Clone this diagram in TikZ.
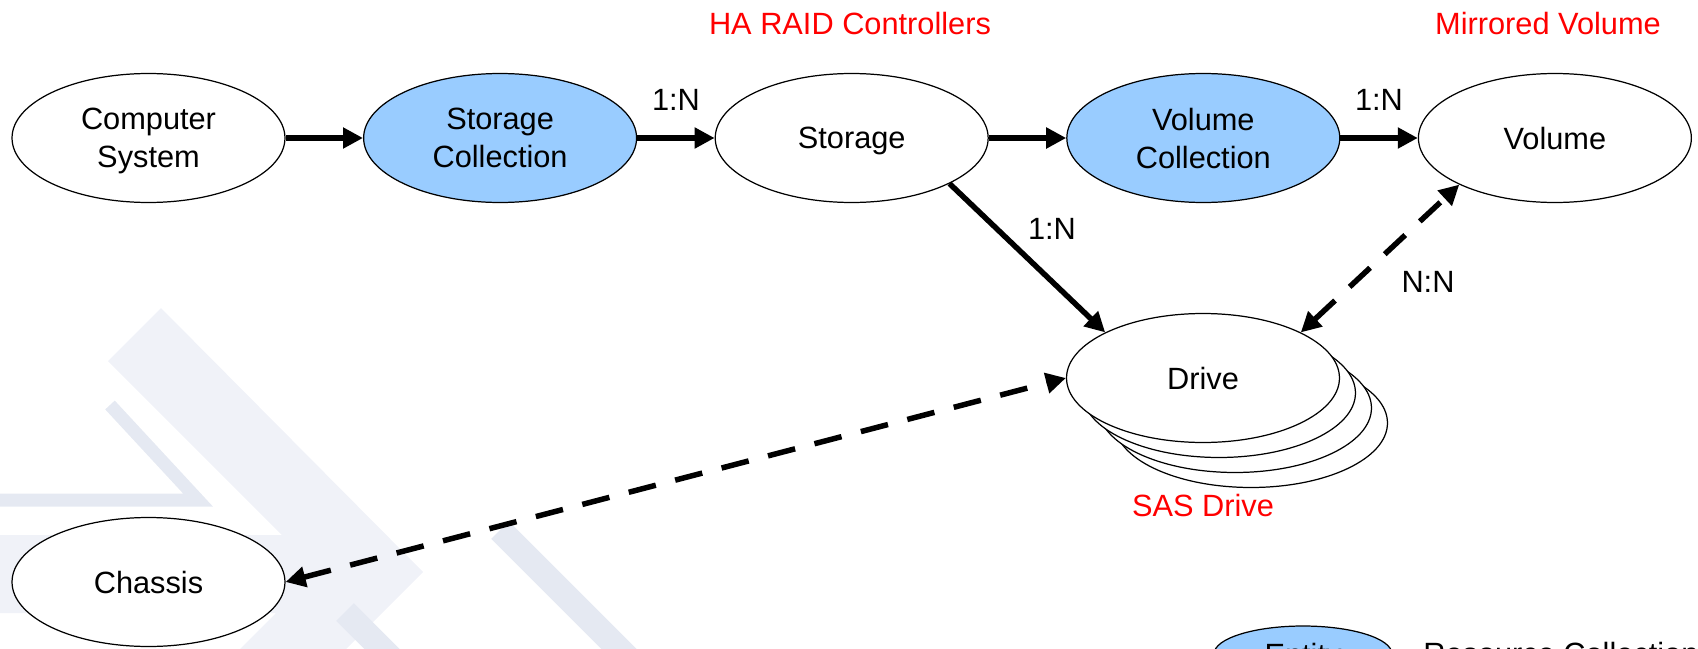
\documentclass[tikz,border=0pt]{standalone}
\usepackage{fontspec}
\setmainfont{Liberation Sans}
\usetikzlibrary{shapes.geometric, arrows.meta}
\definecolor{collblue}{HTML}{99CCFF}
\definecolor{wmlight}{HTML}{F0F2F8}
\definecolor{wmdark}{HTML}{E5E9F2}
\tikzset{
  every resource/.style={ellipse, draw, fill=white, line width=0.7pt,
    minimum width=5.46cm, minimum height=2.58cm, inner sep=0pt, text depth=0pt,
    align=center, font=\fontsize{17.5}{21.6}\selectfont},
  resource scoll/.style={fill=collblue},
  resource vcoll/.style={fill=collblue},
  link/.style={line width=0.11cm, -{Triangle[length=0.4cm, width=0.4cm]}},
  peer link/.style={line width=0.11cm, dash pattern=on 0.56cm off 0.4cm,
    {Triangle[length=0.4cm, width=0.4cm]}-{Triangle[length=0.4cm, width=0.4cm]}},
  card/.style={font=\fontsize{17.5}{21.6}\selectfont, inner sep=0pt},
  remark/.style={card, text=red}
}
\begin{document}
\begin{tikzpicture}[x=0.02cm, y=-0.02cm]
  \useasboundingbox (0,0) rectangle (1698,649);
  \clip (0,0) rectangle (1698,649);

  \fill [wmlight] (108,361) -- (161,308) -- (423,572) -- (346,649) -- (240,649)
    -- (276,613) -- (0,613) -- (0,535) -- (282,535) -- cycle;
  \draw [wmdark, line width=0.26cm] (110,405) -- (198,500) -- (0,500);
  \draw [wmdark, line width=0.5cm] (500,530) -- (640,670);
  \draw [wmdark, line width=0.5cm] (345,612) -- (395,662);

  \foreach \m/\l [count=\i from 0] in {system/{Computer\\System}, scoll/{Storage\\Collection},
      storage/Storage, vcoll/{Volume\\Collection}, volume/Volume}
    \node [every resource/.try, resource \m/.try] (\m) at (148.5+351.6*\i, 138) {\l};

  \foreach \k in {3,2,1}
    \node [every resource/.try] (drive-\k) at (1203+16*\k, 378+15*\k) {};
  \node [every resource/.try] (drive) at (1203,378) {Drive};
  \node [every resource/.try] (chassis) at (148.5,582) {Chassis};

  \foreach \f/\t in {system/scoll, scoll/storage, storage/vcoll, vcoll/volume}
    \draw [link] (\f) -- (\t);
  \draw [link] (storage.-25) -- (drive.155);
  \draw [peer link] (drive.25) -- (volume.206);
  \draw [peer link] (chassis.east) -- (drive.west);

  \foreach \n/\x/\y/\l in {card-a/676/100/1:N, card-b/1379/100/1:N,
      card-c/1052/229/1:N, card-d/1428/282/N:N}
    \node [card] (\n) at (\x,\y) {\l};

  \foreach \n/\x/\l in {remark-raid/850/HA RAID Controllers, remark-mirror/1548/Mirrored Volume}
    \node [remark] (\n) at (\x,24) {\l};
  \node [remark] (remark-sas) at (1203,506) {SAS Drive};

  \node [every resource/.try, resource scoll/.try, minimum width=3.56cm,
    minimum height=1.12cm] (legend) at (1303,654) {Entity};
  \node [card, anchor=west] (legend-text) at (1423,654) {Resource Collection};
\end{tikzpicture}
\end{document}
